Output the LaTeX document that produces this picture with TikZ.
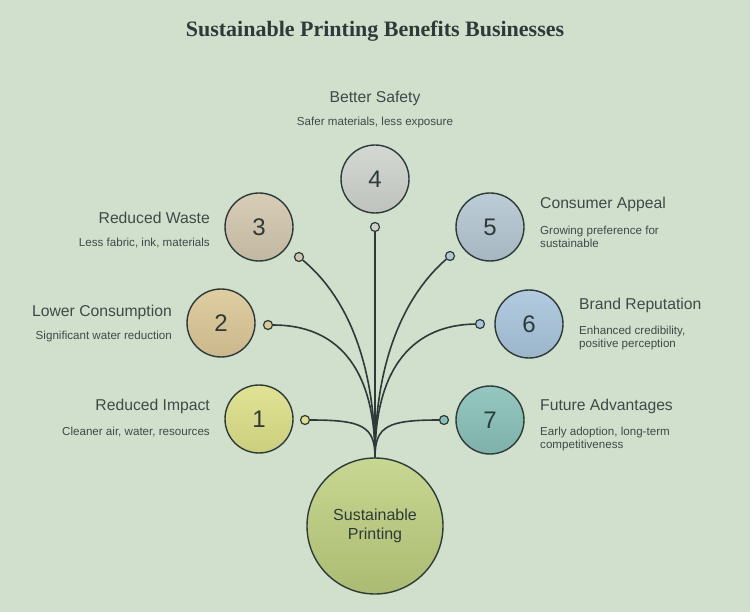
\documentclass[tikz,border=0pt]{standalone}
\usepackage{fontspec}
\setmainfont{Liberation Sans}
\newfontfamily\titlefont{Liberation Serif}
\definecolor{bg}{HTML}{D1E0CD}
\definecolor{ink}{HTML}{2E3A3A}
\definecolor{txt}{HTML}{3D4A48}
\definecolor{cA}{HTML}{DDE088}
\definecolor{cB}{HTML}{DCC898}
\definecolor{cC}{HTML}{D3C7AE}
\definecolor{cD}{HTML}{CFD3CE}
\definecolor{cE}{HTML}{B5C7D3}
\definecolor{cF}{HTML}{A9C5DD}
\definecolor{cG}{HTML}{88C1B9}
\definecolor{cM}{HTML}{BED07E}
\tikzset{
  numc/.style={circle, draw=ink, line width=1.4pt, minimum size=68pt, inner sep=0pt,
    font=\fontsize{24}{24}\selectfont, text=ink},
  dotc/.style={circle, draw=ink, line width=1.2pt, minimum size=9pt, inner sep=0pt},
  conn/.style={draw=ink, line width=1.6pt},
  head/.style={font=\fontsize{15.7}{18}\selectfont, text=txt, inner sep=0pt},
  sub/.style={font=\fontsize{11.6}{13.5}\selectfont, text=txt, inner sep=0pt, align=left},
}
\begin{document}
\begin{tikzpicture}[x=1pt,y=-1pt]
\fill[bg] (0,0) rectangle (750,612);
\useasboundingbox (0,0) rectangle (750,612);
\node[font=\titlefont\bfseries\fontsize{22}{24}\selectfont, text=ink] (title) at (375,31) {Sustainable Printing Benefits Businesses};

\node[numc, top color=cM!85!white, bottom color=cM!90!black, minimum size=136pt,
  font=\fontsize{16}{19.5}\selectfont, align=center] (main) at (375,526) {Sustainable\\Printing};

\node[numc, top color=cA!90!white, bottom color=cA!92!black] (c1) at (259,419) {1};
\node[numc, top color=cB!90!white, bottom color=cB!92!black] (c2) at (221,323) {2};
\node[numc, top color=cC!90!white, bottom color=cC!92!black] (c3) at (259,227) {3};
\node[numc, top color=cD!90!white, bottom color=cD!92!black] (c4) at (375,179) {4};
\node[numc, top color=cE!90!white, bottom color=cE!92!black] (c5) at (490,227) {5};
\node[numc, top color=cF!90!white, bottom color=cF!92!black] (c6) at (529,324) {6};
\node[numc, top color=cG!90!white, bottom color=cG!92!black] (c7) at (490,420) {7};

\node[dotc, fill=cA] (d1) at (305,420) {};
\node[dotc, fill=cB] (d2) at (268,325) {};
\node[dotc, fill=cC] (d3) at (299,257) {};
\node[dotc, fill=cD] (d4) at (375,227) {};
\node[dotc, fill=cE] (d5) at (450,256) {};
\node[dotc, fill=cF] (d6) at (480,324) {};
\node[dotc, fill=cG] (d7) at (444,420) {};

\draw[conn] (d1) .. controls (362,420) and (375,426) .. (main.north);
\draw[conn] (d2) .. controls (335,325) and (375,365) .. (main.north);
\draw[conn] (d3) .. controls (345,295) and (375,360) .. (main.north);
\draw[conn] (d4) -- (main.north);
\draw[conn] (d5) .. controls (405,295) and (375,360) .. (main.north);
\draw[conn] (d6) .. controls (415,325) and (375,365) .. (main.north);
\draw[conn] (d7) .. controls (388,420) and (375,426) .. (main.north);

\node[head, anchor=east] (h1) at (210,406) {Reduced Impact};
\node[sub, anchor=east] (s1) at (210,432) {Cleaner air, water, resources};
\node[head, anchor=east] (h2) at (172,312) {Lower Consumption};
\node[sub, anchor=east] (s2) at (172,337) {Significant water reduction};
\node[head, anchor=east] (h3) at (210,218) {Reduced Waste};
\node[sub, anchor=east] (s3) at (210,243) {Less fabric, ink, materials};
\node[head] (h4) at (375,98) {Better Safety};
\node[sub] (s4) at (375,123) {Safer materials, less exposure};
\node[head, anchor=west] (h5) at (540,204) {Consumer Appeal};
\node[sub, anchor=west] (s5) at (540,237) {Growing preference for\\sustainable};
\node[head, anchor=west] (h6) at (579,305) {Brand Reputation};
\node[sub, anchor=west] (s6) at (579,338) {Enhanced credibility,\\positive perception};
\node[head, anchor=west] (h7) at (540,406) {Future Advantages};
\node[sub, anchor=west] (s7) at (540,439) {Early adoption, long-term\\competitiveness};
\end{tikzpicture}
\end{document}
